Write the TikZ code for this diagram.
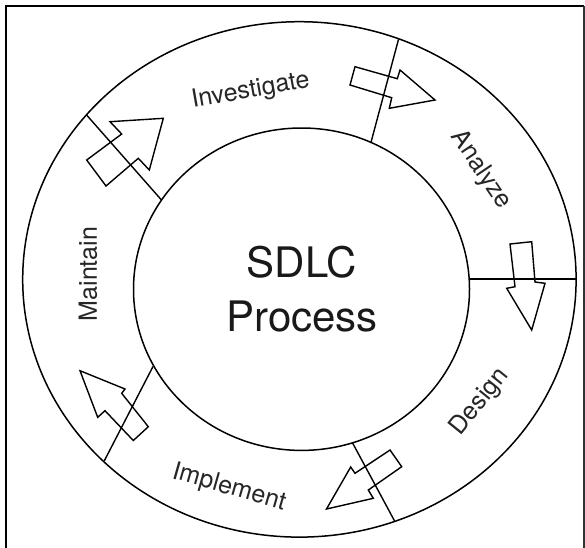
\documentclass[tikz,border=0pt]{standalone}
\usepackage{fontspec}
\setmainfont{TeX Gyre Heros}
\begin{document}
\begin{tikzpicture}[x=1pt,y=-1pt,
  ring/.style={line width=1.5pt, draw=black},
  divider/.style={line width=1.4pt, draw=black},
  blockarrow/.style={line width=1.4pt, draw=black, line join=miter},
  phase/.style={font=\fontsize{25}{30}\selectfont, text=black!85, inner sep=0pt},
  title/.style={font=\fontsize{42}{54}\selectfont, text=black!90, inner sep=0pt, anchor=base}]
\useasboundingbox (0,0) rectangle (585,547);
\fill[white] (0,0) rectangle (585,547);
% frame
\draw[line width=2.4pt] (6,548) -- (6,6) -- (584,6);
\draw[line width=1.2pt, black!80] (584,6) -- (584,548);
% rings
\draw[ring] (299.4,279.4) ellipse [x radius=276.7pt, y radius=257.7pt];
\draw[ring] (301.5,289.2) ellipse [x radius=168pt, y radius=161.2pt];
% divider end points
\coordinate (d1i) at (371,142.3);   \coordinate (d1o) at (398.5,39.4);
\coordinate (d2i) at (469.4,279);   \coordinate (d2o) at (576,279);
\coordinate (d3i) at (352.6,443);   \coordinate (d3o) at (394.8,521.4);
\coordinate (d4i) at (153,366.5);   \coordinate (d4o) at (104.2,461);
\coordinate (d5i) at (161.3,199.8); \coordinate (d5o) at (86.6,115);
\draw[divider] (d1i) -- (d1o);
\draw[divider] (d2i) -- (d2o);
\draw[divider] (d3i) -- (d3o);
\draw[divider] (d4i) -- (d4o);
\draw[divider] (d5i) -- (d5o);
% block arrows
\draw[blockarrow] (355,66.7) -- (397.3,78.7) -- (400,70) -- (435,100) -- (389.3,108.3) -- (391.7,97.7) -- (350,85) -- cycle;
\draw[blockarrow] (510,244) -- (531.7,241.7) -- (535,282) -- (545,283.3) -- (531.7,330) -- (506.7,288.3) -- (515,286.7) -- cycle;
\draw[blockarrow] (390,450) -- (401.7,466.7) -- (368.3,490) -- (373.3,498.3) -- (326.5,509) -- (350.7,467) -- (355,473.3) -- cycle;
\draw[blockarrow] (80,370.7) -- (125,389) -- (121.7,393.3) -- (148.3,426.7) -- (133.3,440.5) -- (105,410.7) -- (97.7,417.3) -- cycle;
\draw[blockarrow] (163.3,118.3) -- (149.3,170) -- (138.3,158.3) -- (106,186) -- (86.7,160) -- (121.7,134) -- (110,121.7) -- cycle;
% labels
\node[title] (sdlc) at (302,277) {SDLC};
\node[title] (proc) at (302,331) {Process};
\node[phase, rotate=10] (inv) at (250.7,91) {Investigate};
\node[phase, rotate=-56] (ana) at (481,170) {Analyze};
\node[phase, rotate=51] (des) at (480,402) {Design};
\node[phase, rotate=-16] (imp) at (229,488) {Implement};
\node[phase, rotate=90] (mai) at (88,274) {Maintain};
\end{tikzpicture}
\end{document}
